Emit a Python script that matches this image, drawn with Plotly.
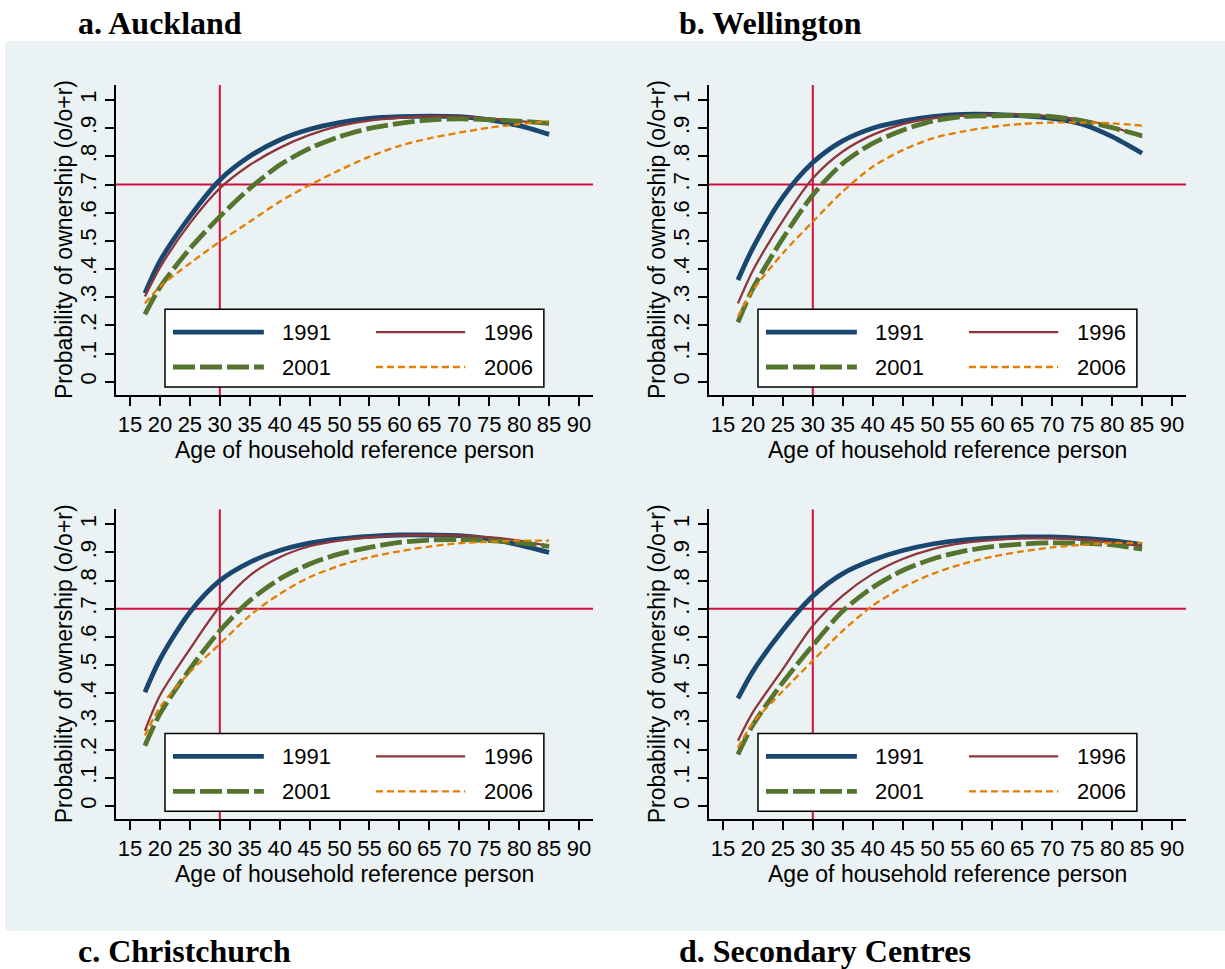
import plotly.graph_objects as go

W, H = 1225, 969

# Age of household reference person (x values shared by every curve)
AGES = [17.5, 20, 25, 30, 35, 40, 45, 50, 55, 60, 65, 70, 75, 80, 85]
YEARS = ["1991", "1996", "2001", "2006"]

# Probability of ownership, o/(o+r), by census year
AKL_1991 = [0.314, 0.428, 0.586, 0.716, 0.800, 0.858, 0.896, 0.920, 0.935, 0.941, 0.943, 0.941, 0.929, 0.909, 0.878]
AKL_1996 = [0.302, 0.405, 0.562, 0.686, 0.769, 0.830, 0.876, 0.908, 0.927, 0.937, 0.942, 0.941, 0.935, 0.925, 0.915]
AKL_2001 = [0.239, 0.335, 0.472, 0.586, 0.686, 0.769, 0.828, 0.870, 0.899, 0.917, 0.929, 0.933, 0.930, 0.925, 0.917]
AKL_2006 = [0.278, 0.337, 0.420, 0.497, 0.568, 0.639, 0.698, 0.751, 0.799, 0.837, 0.864, 0.884, 0.902, 0.914, 0.925]

WLG_1991 = [0.361, 0.475, 0.655, 0.778, 0.855, 0.900, 0.925, 0.941, 0.949, 0.949, 0.944, 0.935, 0.914, 0.870, 0.811]
WLG_1996 = [0.278, 0.395, 0.572, 0.722, 0.817, 0.876, 0.914, 0.935, 0.945, 0.949, 0.949, 0.942, 0.929, 0.905, 0.868]
WLG_2001 = [0.211, 0.331, 0.509, 0.663, 0.775, 0.846, 0.893, 0.925, 0.941, 0.944, 0.945, 0.941, 0.926, 0.902, 0.873]
WLG_2006 = [0.231, 0.325, 0.456, 0.568, 0.675, 0.763, 0.822, 0.864, 0.888, 0.905, 0.915, 0.920, 0.920, 0.917, 0.909]

CHC_1991 = [0.404, 0.520, 0.688, 0.800, 0.865, 0.907, 0.933, 0.948, 0.957, 0.962, 0.962, 0.960, 0.948, 0.927, 0.900]
CHC_1996 = [0.267, 0.392, 0.557, 0.708, 0.818, 0.883, 0.922, 0.942, 0.954, 0.960, 0.962, 0.960, 0.954, 0.942, 0.922]
CHC_2001 = [0.214, 0.327, 0.486, 0.622, 0.729, 0.806, 0.859, 0.895, 0.918, 0.936, 0.944, 0.946, 0.942, 0.934, 0.922]
CHC_2006 = [0.250, 0.350, 0.475, 0.575, 0.676, 0.753, 0.812, 0.853, 0.883, 0.904, 0.921, 0.933, 0.938, 0.942, 0.942]

SEC_1991 = [0.382, 0.478, 0.625, 0.745, 0.825, 0.873, 0.907, 0.930, 0.944, 0.951, 0.955, 0.955, 0.950, 0.942, 0.928]
SEC_1996 = [0.232, 0.333, 0.486, 0.640, 0.747, 0.824, 0.877, 0.912, 0.933, 0.944, 0.950, 0.950, 0.946, 0.936, 0.922]
SEC_2001 = [0.183, 0.288, 0.439, 0.570, 0.692, 0.776, 0.836, 0.877, 0.904, 0.921, 0.930, 0.934, 0.933, 0.927, 0.912]
SEC_2006 = [0.207, 0.295, 0.408, 0.516, 0.622, 0.711, 0.776, 0.824, 0.859, 0.885, 0.904, 0.918, 0.927, 0.934, 0.933]

PANEL_TITLES = ["a. Auckland", "b. Wellington", "c. Christchurch", "d. Secondary Centres"]
PANEL_SERIES = [
    [AKL_1991, AKL_1996, AKL_2001, AKL_2006],
    [WLG_1991, WLG_1996, WLG_2001, WLG_2006],
    [CHC_1991, CHC_1996, CHC_2001, CHC_2006],
    [SEC_1991, SEC_1996, SEC_2001, SEC_2006],
]

X_TICKS = list(range(15, 95, 5))
Y_TICKS = [i / 10 for i in range(11)]
Y_TICKTEXT = ["0", ".1", ".2", ".3", ".4", ".5", ".6", ".7", ".8", ".9", "1"]
X_RANGE = [12.662, 92.338]
Y_RANGE = [-0.0472, 1.0532]
REF_AGE = 30
REF_PROB = 0.7

X_TITLE = "Age of household reference person"
Y_TITLE = "Probability of ownership (o/o+r)"

# ---- styling ----
SANS = "Liberation Sans, Arial, sans-serif"
SERIF = "Liberation Serif, Times New Roman, serif"
BG = "#EAF2F3"
REF_RED = "#D0103A"
STYLE = {
    "1991": dict(color="#1A476F", width=4.8, dash="solid"),
    "1996": dict(color="#90353B", width=2.3, dash="solid"),
    "2001": dict(color="#55752F", width=4.8, dash="22px,5px"),
    "2006": dict(color="#E37E00", width=2.3, dash="7px,4px"),
}

COL_PX = [(116, 593), (709, 1186)]
ROW_PX = [(85, 395), (509.3, 819.3)]
TITLE_X_PX = [76, 677]
TITLE_Y_PX = [23.5, 950.5]


def fx(p):
    return p / W


def fy(p):
    return 1 - p / H


fig = go.Figure()
shapes = []
annotations = []

# shaded graph region
shapes.append(dict(type="rect", xref="paper", yref="paper",
                   x0=fx(5), x1=1.0, y0=fy(931), y1=fy(41),
                   fillcolor=BG, line=dict(width=0), layer="below"))

layout_axes = {}
for k in range(4):
    r, c = divmod(k, 2)
    sfx = "" if k == 0 else str(k + 1)
    xa, ya = "x" + sfx, "y" + sfx
    x0p, x1p = COL_PX[c]
    y0p, y1p = ROW_PX[r]

    layout_axes["xaxis" + sfx] = dict(
        domain=[fx(x0p), fx(x1p)], anchor=ya, range=X_RANGE,
        tickmode="array", tickvals=X_TICKS, ticktext=[str(v) for v in X_TICKS],
        ticks="outside", ticklen=9, tickwidth=1.5, tickcolor="black",
        showline=True, linecolor="black", linewidth=1.5,
        showgrid=True, gridcolor=BG, gridwidth=2, zeroline=False,
        tickangle=0, tickfont=dict(family=SANS, size=22, color="black"),
        ticklabelstandoff=0, fixedrange=True,
    )
    layout_axes["yaxis" + sfx] = dict(
        domain=[fy(y1p), fy(y0p)], anchor=xa, range=Y_RANGE,
        tickmode="array", tickvals=Y_TICKS, ticktext=Y_TICKTEXT,
        ticks="outside", ticklen=9, tickwidth=1.5, tickcolor="black",
        showline=True, linecolor="black", linewidth=1.5,
        showgrid=True, gridcolor=BG, gridwidth=2, zeroline=False,
        tickangle=-90, tickfont=dict(family=SANS, size=22, color="black"),
        ticklabelstandoff=0, fixedrange=True,
    )

    xd, yd = xa + " domain", ya + " domain"

    # reference lines at age 30 and probability 0.7, drawn under the curves
    fig.add_trace(go.Scatter(
        x=[REF_AGE, REF_AGE], y=Y_RANGE, mode="lines", xaxis=xa, yaxis=ya,
        line=dict(color=REF_RED, width=2), showlegend=False, hoverinfo="skip"))
    fig.add_trace(go.Scatter(
        x=X_RANGE, y=[REF_PROB, REF_PROB], mode="lines", xaxis=xa, yaxis=ya,
        line=dict(color=REF_RED, width=2), showlegend=False, hoverinfo="skip"))

    # curves
    for year, vals in zip(YEARS, PANEL_SERIES[k]):
        st = STYLE[year]
        fig.add_trace(go.Scatter(
            x=AGES, y=vals, mode="lines", name=year, xaxis=xa, yaxis=ya,
            line=dict(color=st["color"], width=st["width"], dash=st["dash"],
                      shape="spline", smoothing=0.8),
            showlegend=False, hoverinfo="skip",
        ))

    # legend box
    shapes.append(dict(type="rect", xref=xd, yref=yd, x0=0.1027, x1=0.897, y0=0.0258, y1=0.277,
                       fillcolor="white", line=dict(color="black", width=1.5), layer="above"))
    rows_y = [0.203, 0.0903]
    entries = [
        ("1991", 0.1195, 0.310, 0.4549, rows_y[0]),
        ("1996", 0.545, 0.732, 0.878, rows_y[0]),
        ("2001", 0.1195, 0.310, 0.4549, rows_y[1]),
        ("2006", 0.545, 0.732, 0.878, rows_y[1]),
    ]
    for year, lx0, lx1, tx, ty in entries:
        st = STYLE[year]
        shapes.append(dict(type="line", xref=xd, yref=yd, x0=lx0, x1=lx1, y0=ty, y1=ty,
                           line=dict(color=st["color"], width=st["width"], dash=st["dash"]),
                           layer="above"))
        annotations.append(dict(xref=xd, yref=yd, x=tx, y=ty, text=year, showarrow=False,
                                xanchor="right", yanchor="middle",
                                font=dict(family=SANS, size=22, color="black")))

    # axis titles
    annotations.append(dict(xref=xd, yref="paper", x=0.5, y=fy(y1p + 55), text=X_TITLE,
                            showarrow=False, xanchor="center", yanchor="middle",
                            font=dict(family=SANS, size=23, color="black")))
    annotations.append(dict(xref="paper", yref=yd, x=fx(x0p - 52), y=0.5, text=Y_TITLE,
                            showarrow=False, xanchor="center", yanchor="middle", textangle=-90,
                            font=dict(family=SANS, size=23, color="black")))

    # panel heading
    annotations.append(dict(xref="paper", yref="paper", x=fx(TITLE_X_PX[c]), y=fy(TITLE_Y_PX[r]),
                            text="<b>" + PANEL_TITLES[k] + "</b>", showarrow=False,
                            xanchor="left", yanchor="middle",
                            font=dict(family=SERIF, size=32, color="black")))

fig.update_layout(
    width=W, height=H, margin=dict(l=0, r=0, t=0, b=0),
    paper_bgcolor="white", plot_bgcolor="white",
    showlegend=False, shapes=shapes, annotations=annotations,
    **layout_axes,
)

fig.write_html("out.html")
